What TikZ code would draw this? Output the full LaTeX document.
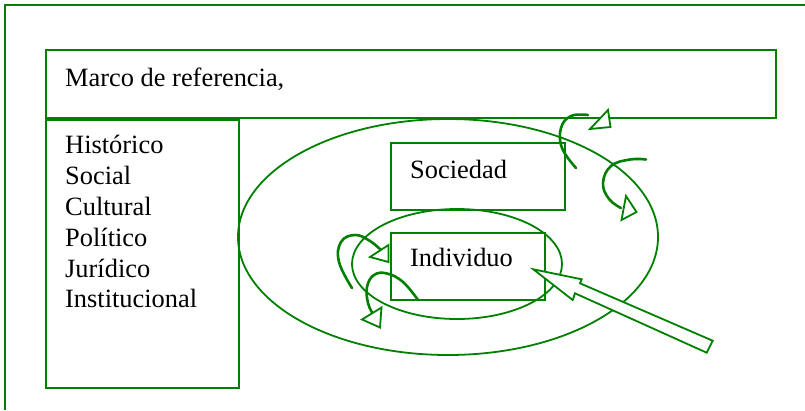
\documentclass[tikz,border=0pt]{standalone}
\usepackage{fontspec}
\setmainfont{Liberation Serif}
\usetikzlibrary{shapes.geometric}
\definecolor{wgreen}{RGB}{0,128,0}
\tikzset{
  box/.style={draw=wgreen, line width=2pt, rectangle, inner sep=0pt, anchor=north west},
  oval/.style={draw=wgreen, line width=1.8pt, ellipse, inner sep=0pt},
  lbl/.style={inner sep=0pt, anchor=base west, font=\fontsize{26.4}{30.7}\selectfont},
  curv/.style={draw=wgreen, line width=2.6pt, line cap=round, line join=round},
  headtri/.style={draw=wgreen, line width=1.8pt, fill=white, line join=miter},
  blockarr/.style={draw=wgreen, line width=1.8pt, fill=white, line join=miter}
}
\begin{document}
\begin{tikzpicture}[x=1pt,y=-1pt]
\useasboundingbox (0,0) rectangle (805,410);
% outer frame
\coordinate (fbl) at (5,410);
\coordinate (ftl) at (5,5);
\coordinate (ftr) at (805,5);
\draw[wgreen, line width=2pt] (fbl) -- (ftl) -- (ftr);
% boxes
\node[box, minimum width=730pt, minimum height=68pt] (marco) at (45,49) {};
\node[box, minimum width=193pt, minimum height=268pt] (left) at (45,119) {};
% ellipses
\node[oval, minimum width=420pt, minimum height=236pt] (big) at (448,237) {};
\node[oval, minimum width=210pt, minimum height=110pt] (small) at (457,264) {};
% inner boxes
\node[box, minimum width=174pt, minimum height=67pt] (soc) at (390,142) {};
\node[box, minimum width=154pt, minimum height=67pt] (ind) at (390,232) {};
% texts
\node[lbl] (tmarco) at (65,86) {Marco de referencia,};
\node[lbl] (t1) at (65,153) {Histórico};
\node[lbl] (t2) at (65,184) {Social};
\node[lbl] (t3) at (65,215.5) {Cultural};
\node[lbl] (t4) at (65,246) {Político};
\node[lbl] (t5) at (65,277) {Jurídico};
\node[lbl] (t6) at (65,307) {Institucional};
\node[lbl] (tsoc) at (410,178.3) {Sociedad};
\node[lbl] (tind) at (410,266) {Individuo};
% curved arrow 1 (top right of Sociedad)
\draw[curv] plot[smooth, tension=0.7] coordinates {(576,168) (562,148) (561,128) (571,116) (588,115)};
\draw[headtri] (590,129) -- (608,110) -- (610.5,127) -- cycle;
% curved arrow 2 (right of Sociedad)
\draw[curv] plot[smooth, tension=0.7] coordinates {(646,159.5) (630,159.5) (611,166) (603,183) (609,199) (621,208)};
\draw[headtri] (621.5,220) -- (626,196) -- (636.5,212) -- cycle;
% curved arrow 3 (left of Individuo, upper)
\draw[curv] plot[smooth, tension=0.7] coordinates {(352,288) (339,262) (341,242) (355,235) (370,241) (383,252)};
\draw[headtri] (370,257) -- (388.5,245) -- (388.5,262) -- cycle;
% curved arrow 4 (left of Individuo, lower)
\draw[curv] plot[smooth, tension=0.7] coordinates {(418,300) (403,282) (387,273.5) (374,275) (367,287) (368,303) (373,314)};
\draw[headtri] (362,319.5) -- (381.5,307.5) -- (380,327.5) -- cycle;
% block arrow pointing to Individuo
\coordinate (tip) at (533.3,269.3);
\draw[blockarr] (tip) -- (581.7,279.3) -- (580,283.3) -- (712.7,340.7) -- (706.7,352.7) -- (575,293.3) -- (572.7,300) -- cycle;
\end{tikzpicture}
\end{document}
